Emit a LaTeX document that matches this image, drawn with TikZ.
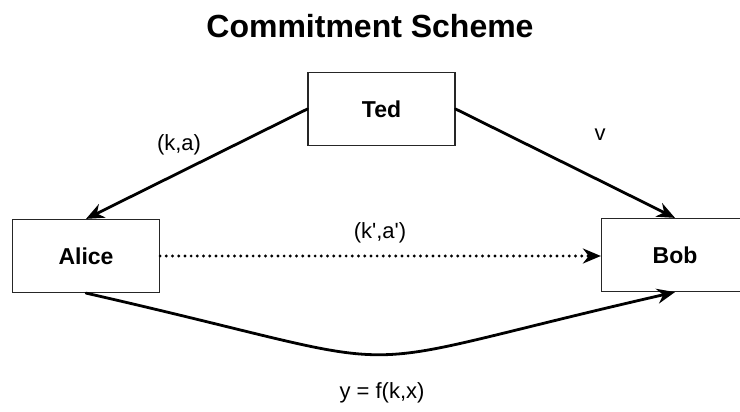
\documentclass[tikz,border=0pt]{standalone}
\usepackage{fontspec}
\setmainfont{Liberation Sans}
\usetikzlibrary{arrows.meta}

\begin{document}
\begin{tikzpicture}[x=1pt,y=-1pt,>={Stealth[length=18pt,width=15pt]},line cap=round,
  party/.style={draw=black!85,line width=1.2pt,minimum width=147pt,minimum height=73pt,inner sep=0pt,font=\fontsize{23}{27}\selectfont\bfseries},
  msg/.style={font=\fontsize{22}{26}\selectfont},
  flow/.style={->,line width=2.8pt}]
\useasboundingbox (0,0) rectangle (740,412);
\node[font=\fontsize{32}{38}\selectfont\bfseries] (title) at (370,26) {Commitment Scheme};
\node[party] (ted) at (381.5,109) {Ted};
\node[party] (alice) at (86,256) {Alice};
\node[party] (bob) at (675,255) {Bob};
\draw[flow] (ted.west) -- (alice.north);
\draw[flow] (ted.east) -- (bob.north);
\draw[flow,line width=3.2pt,dash pattern=on 0pt off 6.2pt] (alice.east) -- (alice.east -| bob.west);
\draw[flow] (alice.south) .. controls +(360,82) and +(-363,83) .. (bob.south);
\node[msg] (ka) at (179,145) {(k,a)};
\node[msg] (v) at (600,135) {v};
\node[msg] (kka) at (380,233) {(k\textquotesingle,a\textquotesingle)};
\node[msg] (y) at (382,393) {y = f(k,x)};
\end{tikzpicture}
\end{document}
